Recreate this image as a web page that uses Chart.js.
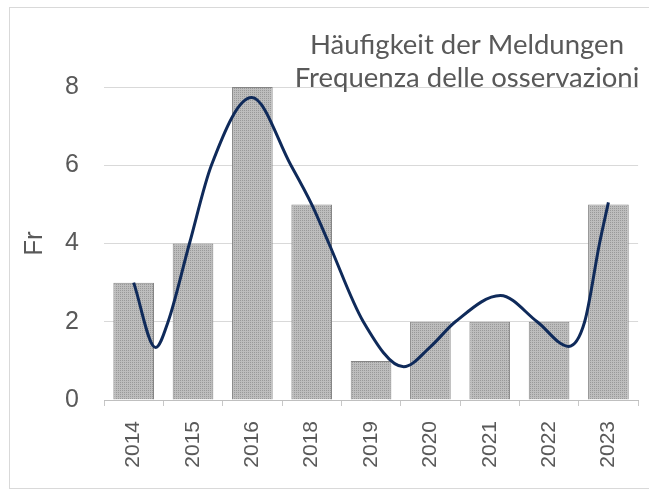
<!DOCTYPE html>
<html>
<head>
<meta charset="utf-8">
<script src="https://cdn.jsdelivr.net/npm/chart.js@4/dist/chart.umd.min.js"></script>
<style>
  html, body { margin: 0; background: #fff; overflow: hidden; }
  #frame { position: absolute; left: 9px; top: 7px; width: 700px; height: 480px; border: 1px solid #d9d9d9; }
  #c { position: absolute; left: 0; top: 0; }
</style>
</head>
<body>
<div id="frame"></div>
<canvas id="c" width="649" height="496"></canvas>
<script>
const years = ["2014", "2015", "2016", "2018", "2019", "2020", "2021", "2022", "2023"];
const counts = [3, 4, 8, 5, 1, 2, 2, 2, 5];
// trend curve (x = category index, 0 = 2014)
const trendX = [0, 0.37, 0.58, 0.94, 1.31, 1.99, 2.65, 3.0, 3.29, 3.87, 4.55, 5.0, 5.42, 6.18, 6.8, 7.33, 7.6, 7.85, 8];
const trendY = [3.0, 1.34, 2.0, 4.0, 6.0, 7.73, 6.0, 5.0, 4.0, 2.0, 0.85, 1.36, 2.0, 2.67, 2.0, 1.37, 2.0, 4.0, 5.05];
const yTicks = [0, 2, 4, 6, 8];
const titleLines = ["Häufigkeit der Meldungen", "Frequenza delle osservazioni"];
const yTitle = "Fr";

// fine dotted gray fill like the original bars
function barPattern() {
  const p = document.createElement("canvas");
  p.width = 2;
  p.height = 2;
  const g = p.getContext("2d");
  g.fillStyle = "#bdbdbd";
  g.fillRect(0, 0, 2, 2);
  g.fillStyle = "#999999";
  g.fillRect(0, 0, 1, 1);
  return g.createPattern(p, "repeat");
}

const titlePlugin = {
  id: "cornerTitle",
  afterDraw(chart) {
    const ctx = chart.ctx;
    ctx.save();
    ctx.font = "27.5px Lato";
    ctx.fillStyle = "#595959";
    ctx.textAlign = "center";
    ctx.textBaseline = "middle";
    ctx.fillText(titleLines[0], 467, 45);
    ctx.fillText(titleLines[1], 467, 78);
    ctx.restore();
  },
};

const trendData = trendX.map((x, i) => ({ x: x, y: trendY[i] }));

new Chart(document.getElementById("c"), {
  type: "bar",
  data: {
    labels: years,
    datasets: [
      {
        type: "bar",
        data: counts,
        xAxisID: "x",
        backgroundColor: barPattern(),
        borderColor: "#858585",
        borderWidth: 1,
        grouped: false,
        categoryPercentage: 1,
        barPercentage: 0.685,
        order: 1,
      },
      {
        type: "line",
        data: trendData,
        xAxisID: "xc",
        borderColor: "#0f2a5a",
        borderWidth: 3,
        pointRadius: 0,
        cubicInterpolationMode: "monotone",
        fill: false,
        order: 0,
      },
    ],
  },
  options: {
    responsive: false,
    animation: false,
    layout: { padding: { left: 9, top: 87, right: 7, bottom: 18 } },
    plugins: { legend: { display: false }, tooltip: { enabled: false } },
    scales: {
      x: {
        type: "category",
        grid: { display: true, drawOnChartArea: false, offset: true, color: "#c8c8c8", tickLength: 6 },
        border: { display: true, color: "#bfbfbf" },
        ticks: {
          color: "#595959",
          font: { family: "Liberation Sans", size: 21 },
          minRotation: 90,
          maxRotation: 90,
          padding: 15,
        },
        afterFit: (s) => { s.height = 496 - 400 - 18; },
      },
      xc: { type: "linear", min: -0.5, max: 8.5, offset: false, display: false },
      y: {
        min: 0,
        max: 8,
        afterBuildTicks: (s) => { s.ticks = yTicks.map((v) => ({ value: v })); },
        grid: { color: "#d9d9d9", drawTicks: false },
        border: { display: false },
        ticks: { color: "#595959", font: { family: "Liberation Sans", size: 25 }, padding: 25 },
        title: { display: true, text: yTitle, color: "#595959", font: { family: "Liberation Sans", size: 26 }, padding: { top: 10, bottom: 0 } },
        afterFit: (s) => { s.width = 104 - 9; },
      },
    },
  },
  plugins: [titlePlugin],
});
</script>
</body>
</html>
